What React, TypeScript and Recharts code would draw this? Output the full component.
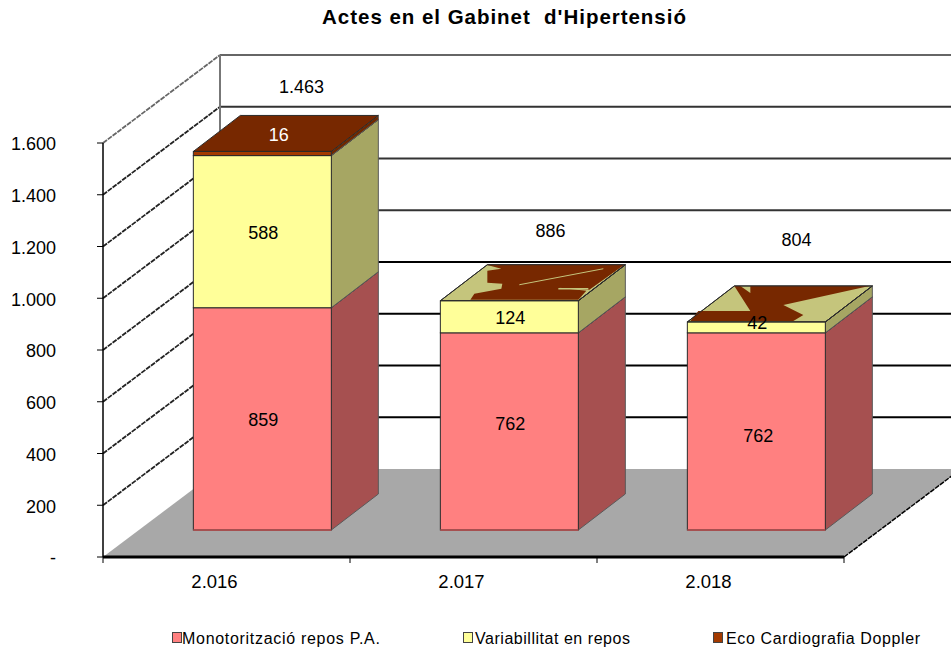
import React from 'react';
import { ComposedChart, Bar, Line, XAxis, YAxis, CartesianGrid, LabelList, Legend } from 'recharts';

const categories = ['2.016', '2.017', '2.018'];
const monitoring = [859, 762, 762];
const variability = [588, 124, 42];
const echo = [16, 0, 0];
const totals = [1463, 886, 804];
const yTicks = [0, 200, 400, 600, 800, 1000, 1200, 1400, 1600];
const seriesNames = ['Monotorització repos P.A.', 'Variabillitat en repos', 'Eco Cardiografia Doppler'];

const rows = categories.map((year, i) => ({
  year,
  monitoring: monitoring[i],
  variability: variability[i],
  echo: echo[i],
  total: totals[i],
}));

// --- layout and style ---
const W = 951;
const H = 647;
const PLOT_LEFT = 103;
const PLOT_RIGHT = 844;
const PLOT_TOP = 143;
const PLOT_BOTTOM = 557;
const X_AXIS_HEIGHT = 40;
const BAND = (PLOT_RIGHT - PLOT_LEFT) / categories.length;
const WALL_DX = 117;
const WALL_DY = -88;
const BAR_SHIFT_X = 36;
const BAR_SHIFT_Y = -27;
const BOX_DX = 47;
const BOX_DY = -36;
const FONT = '"Liberation Sans", Arial, sans-serif';
const FACES = [
  { front: '#FF8080', side: '#A65050', top: '#C06060' },
  { front: '#FFFF99', side: '#A6A663', top: '#C5C57C' },
  { front: '#A33A00', side: '#6E2800', top: '#772800' },
];
const EDGE = '#2a2a2a';

// nudges of the printed labels, per series and category
const LABEL_NUDGE = [
  [[1, 1], [1, -7], [2, 5]],
  [[1, 1], [1, 1], [1, -4]],
  [[-7, -1], [0, 0], [0, 0]],
];
const TOTAL_NUDGE = [[75, -91], [77, -97], [76, -109]];

// texture of the coincident top faces, as offsets from the box's front-left corner
const TOP_TEXTURE: Record<number, number[][][]> = {
  1: [
    [[46, -36], [184, -36], [149, -11], [118, -13], [146, -10], [138, -1], [30, -1], [34, -7], [61, -12], [62, -17], [47, -18], [47, -30], [61, -32]],
  ],
  2: [
    [[3, -1], [11, -11], [63, -11], [47, -36], [53, -36], [63, -29], [63, -36], [182, -36], [96, -17], [116, -7], [106, -1]],
  ],
};

const pts = (list: number[][]) => list.map((p) => p.join(',')).join(' ');

const makeBox = (seriesIndex: number) => (props: any) => {
  const { x, y, width, height, index } = props;
  const face = FACES[seriesIndex];
  const l = x + BAR_SHIFT_X;
  const r = l + width;
  const t = y + BAR_SHIFT_Y;
  const b = t + height;
  const topFace = [[l, t], [r, t], [r + BOX_DX, t + BOX_DY], [l + BOX_DX, t + BOX_DY]];
  if (height <= 0) {
    const texture = TOP_TEXTURE[index] || [];
    return (
      <g>
        {texture.map((poly, k) => (
          <polygon key={k} points={pts(poly.map(([dx, dy]) => [l + dx, t + dy]))} fill={face.top} />
        ))}
        {index === 1 && <line x1={l + 79} y1={t - 16} x2={l + 163} y2={t - 32} stroke={FACES[1].top} strokeWidth={1} />}
        {index === 1 && <line x1={l + 118} y1={t - 12} x2={l + 148} y2={t - 12} stroke={FACES[1].top} strokeWidth={1.5} />}
        <polygon points={pts(topFace)} fill="none" stroke={EDGE} strokeWidth={1} />
        <line x1={r} y1={t} x2={r + BOX_DX} y2={t + BOX_DY} stroke={EDGE} strokeWidth={1} />
      </g>
    );
  }
  return (
    <g>
      <polygon
        points={pts([[r, b], [r + BOX_DX, b + BOX_DY], [r + BOX_DX, t + BOX_DY], [r, t]])}
        fill={face.side}
        stroke="#5a5a5a"
        strokeWidth={1}
      />
      <polygon points={pts(topFace)} fill={face.top} stroke={EDGE} strokeWidth={1} />
      <rect x={l} y={t} width={width} height={height} fill={face.front} stroke={EDGE} strokeWidth={1} />
      {seriesIndex === 0 && <line x1={l} y1={b} x2={r} y2={b} stroke="#A65050" strokeWidth={2} />}
    </g>
  );
};

const makeSegmentLabel = (seriesIndex: number) => (props: any) => {
  const { x, y, width, height, value, index } = props;
  if (!value) return null;
  const [nx, ny] = LABEL_NUDGE[seriesIndex][index];
  let cx = x + BAR_SHIFT_X + width / 2 + nx;
  let cy = y + BAR_SHIFT_Y + height / 2 + ny;
  if (seriesIndex === 2) {
    cx += BOX_DX / 2;
    cy += BOX_DY / 2;
  }
  return (
    <text x={cx} y={cy} textAnchor="middle" dominantBaseline="central" fontSize={18} fontFamily={FONT} fill={seriesIndex === 2 ? '#fff' : '#000'}>
      {value}
    </text>
  );
};

const thousand = (v: number) => (v === 0 ? '-' : String(v).replace(/\B(?=(\d{3})+$)/, '.'));

const TotalLabel = (props: any) => {
  const { x, y, value, index } = props;
  const [nx, ny] = TOTAL_NUDGE[index];
  return (
    <text x={x + nx} y={y + ny} textAnchor="middle" dominantBaseline="central" fontSize={18} fontFamily={FONT} fill="#000">
      {thousand(value)}
    </text>
  );
};

// each grid line comes from the value axis and is extended to the side wall and back wall
const WallLine = (props: any) => {
  const { y1, index } = props;
  const backY = y1 + WALL_DY;
  const backX = PLOT_LEFT + WALL_DX;
  const isFloor = Math.abs(y1 - PLOT_BOTTOM) < 0.5;
  const isTop = Math.abs(y1 - PLOT_TOP) < 0.5;
  const light = y1 < 170;
  return (
    <g key={index}>
      {isFloor && (
        <polygon
          points={pts([[PLOT_LEFT, y1], [PLOT_RIGHT, y1], [PLOT_RIGHT + WALL_DX, backY], [backX, backY]])}
          fill="#A8A8A8"
        />
      )}
      {isFloor && <line x1={PLOT_RIGHT} y1={y1} x2={PLOT_RIGHT + WALL_DX} y2={backY} stroke="#000" strokeWidth={1.5} strokeDasharray="5 1" />}
      {!isFloor && (
        <line x1={backX} y1={backY} x2={W} y2={backY} stroke={light ? '#666' : y1 < 300 ? '#333' : '#000'} strokeWidth={2} />
      )}
      {!isFloor && (
        <line x1={PLOT_LEFT} y1={y1} x2={backX} y2={backY} stroke={isTop ? '#666' : '#222'} strokeWidth={1.8} strokeDasharray="5 1" />
      )}
      {isTop && <line x1={backX} y1={backY} x2={backX} y2={PLOT_BOTTOM + WALL_DY} stroke="#777" strokeWidth={2} />}
    </g>
  );
};

const XTick = (props: any) => {
  const { x, payload, index } = props;
  const left = x - BAND / 2;
  return (
    <g>
      <line x1={left} y1={PLOT_BOTTOM} x2={left} y2={PLOT_BOTTOM + 6} stroke="#000" />
      {index === categories.length - 1 && (
        <line x1={x + BAND / 2} y1={PLOT_BOTTOM} x2={x + BAND / 2} y2={PLOT_BOTTOM + 6} stroke="#000" />
      )}
      <text x={x - 12} y={PLOT_BOTTOM + 24} textAnchor="middle" dominantBaseline="central" fontSize={18.5} fontFamily={FONT} fill="#000">
        {payload.value}
      </text>
    </g>
  );
};

const LEGEND_SWATCH_X = [172, 463, 713];
const LEGEND_TEXT_X = [182, 475, 726];
const LEGEND_SPACING = ['0.7px', '0.53px', '0.63px'];

const LegendContent = () => (
  <div style={{ position: 'relative', height: 0, width: W, fontFamily: FONT }}>
    {seriesNames.map((name, i) => (
      <React.Fragment key={name}>
        <span
          style={{
            position: 'absolute', left: LEGEND_SWATCH_X[i], top: 632, width: 8, height: 9,
            background: FACES[i].front, border: '1px solid #444',
          }}
        />
        <span
          style={{
            position: 'absolute', left: LEGEND_TEXT_X[i], top: 629, fontSize: 16, lineHeight: '20px',
            whiteSpace: 'nowrap', letterSpacing: LEGEND_SPACING[i], color: '#000',
          }}
        >
          {name}
        </span>
      </React.Fragment>
    ))}
  </div>
);

export default function App() {
  return (
    <div style={{ position: 'absolute', left: 0, top: 0, width: W, height: H, background: '#fff', overflow: 'hidden' }}>
      <ComposedChart
        width={W}
        height={H}
        data={rows}
        margin={{ top: PLOT_TOP, right: W - PLOT_RIGHT, bottom: H - PLOT_BOTTOM - X_AXIS_HEIGHT, left: 0 }}
        barCategoryGap="22%"
        style={{ fontFamily: FONT }}
      >
        <text x={504.5} y={16} textAnchor="middle" dominantBaseline="central" fontSize={20.5} fontWeight="bold" fontFamily={FONT} fill="#000" letterSpacing="0.97">
          {"Actes en el Gabinet\u00A0\u00A0d'Hipertensió"}
        </text>
        <CartesianGrid vertical={false} horizontal={WallLine as any} />
        <XAxis dataKey="year" height={X_AXIS_HEIGHT} tickLine={false} axisLine={{ stroke: '#000', strokeWidth: 3 }} tick={XTick as any} interval={0} />
        <YAxis
          width={PLOT_LEFT}
          domain={[0, 1600]}
          ticks={yTicks}
          interval={0}
          tickFormatter={thousand}
          tickSize={6}
          tickMargin={41}
          tick={{ fontSize: 18, fill: '#000', fontFamily: FONT, dy: 1 }}
          tickLine={{ stroke: '#000' }}
          axisLine={{ stroke: '#000', strokeWidth: 1.5 }}
        />
        <Bar dataKey="monitoring" name={seriesNames[0]} stackId="a" fill={FACES[0].front} shape={makeBox(0)} isAnimationActive={false}>
          <LabelList dataKey="monitoring" content={makeSegmentLabel(0) as any} />
        </Bar>
        <Bar dataKey="variability" name={seriesNames[1]} stackId="a" fill={FACES[1].front} shape={makeBox(1)} isAnimationActive={false}>
          <LabelList dataKey="variability" content={makeSegmentLabel(1) as any} />
        </Bar>
        <Bar dataKey="echo" name={seriesNames[2]} stackId="a" fill={FACES[2].front} shape={makeBox(2)} isAnimationActive={false}>
          <LabelList dataKey="echo" content={makeSegmentLabel(2) as any} />
        </Bar>
        <Line dataKey="total" stroke="none" dot={false} activeDot={false} legendType="none" isAnimationActive={false}>
          <LabelList dataKey="total" content={TotalLabel as any} />
        </Line>
        <Legend content={LegendContent as any} wrapperStyle={{ left: 0, top: 0, bottom: 'auto', width: W, height: 0 }} />
      </ComposedChart>
    </div>
  );
}
